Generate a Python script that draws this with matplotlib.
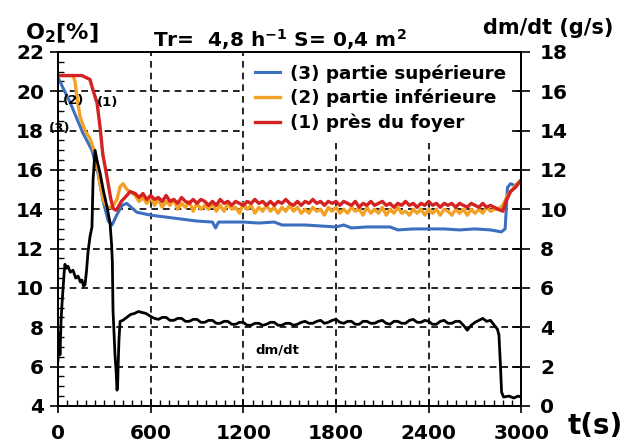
import matplotlib
matplotlib.use('Agg')
import matplotlib.pyplot as plt
from matplotlib.ticker import MultipleLocator

plt.rcParams['font.family'] = ['DejaVu Sans']
plt.rcParams['font.weight'] = 'bold'
plt.rcParams['mathtext.fontset'] = 'dejavusans'

# sample times of the steady phase (every 25 s)
t_steady = list(range(500, 2851, 25))
t_dm_steady = list(range(600, 2826, 25))

# O2 near the fire (1)
t_red_start = [0, 155, 207, 227, 253, 272, 290, 318, 340, 356, 375, 389, 410, 434, 467]
o2_red_start = [20.8, 20.8, 20.6, 20.05, 19.4, 18.2, 16.8, 15.6, 14.6, 14.05, 13.95, 14.1, 14.4, 14.6, 14.9]
o2_red_steady = [
    14.8, 14.6, 14.8, 14.5, 14.7, 14.5, 14.6, 14.4, 14.7, 14.4, 14.5, 14.3, 14.6, 14.4, 14.3, 14.5, 14.3, 14.5, 14.4, 14.2,
    14.4, 14.2, 14.5, 14.3, 14.4, 14.2, 14.4, 14.3, 14.2, 14.4, 14.3, 14.5, 14.3, 14.4, 14.2, 14.4, 14.2, 14.4, 14.3, 14.5,
    14.3, 14.2, 14.4, 14.2, 14.4, 14.3, 14.5, 14.3, 14.4, 14.2, 14.4, 14.3, 14.4, 14.2, 14.4, 14.3, 14.2, 14.4, 14.1, 14.3,
    14.2, 14.4, 14.2, 14.3, 14.4, 14.2, 14.3, 14.1, 14.3, 14.2, 14.4, 14.2, 14.3, 14.1, 14.3, 14.2, 14.4, 14.2, 14.3, 14.1,
    14.3, 14.2, 14.3, 14.1, 14.3, 14.2, 14.1, 14.3, 14.2, 14.1, 14.3, 14.1, 14.2, 14.1, 14.0]
t_red_end = [2880, 2900, 2930, 2960, 3000]
o2_red_end = [13.9, 14.4, 14.9, 15.1, 15.5]

# O2 lower part (2)
t_orange_start = [0, 97, 110, 123, 143, 175, 207, 240, 253, 272, 292, 318, 350, 382, 402, 421, 447, 475]
o2_orange_start = [20.8, 20.8, 20.5, 19.7, 18.7, 18.0, 17.6, 16.85, 16.35, 15.3, 14.5, 14.1, 14.1, 14.5, 15.15, 15.3, 15.0, 14.85]
o2_orange_steady = [
    14.7, 14.4, 14.6, 14.3, 14.6, 14.2, 14.5, 14.1, 14.4, 14.2, 14.5, 14.0, 14.3, 14.1, 14.4, 13.9, 14.3, 14.0, 14.2, 14.0,
    14.3, 13.9, 14.2, 13.9, 14.3, 14.0, 14.1, 13.8, 14.3, 14.0, 14.2, 13.8, 14.1, 13.9, 14.2, 13.9, 14.1, 13.8, 14.1, 13.9,
    14.2, 13.9, 14.1, 13.8, 14.0, 13.8, 14.1, 13.9, 14.0, 13.7, 14.1, 13.9, 14.1, 13.8, 14.0, 13.8, 14.1, 13.9, 14.0, 13.7,
    14.1, 13.8, 14.0, 13.8, 14.1, 13.7, 14.0, 13.8, 14.1, 13.8, 13.9, 13.7, 14.0, 13.8, 14.0, 13.7, 14.0, 13.8, 14.0, 13.7,
    14.0, 13.9, 13.7, 14.0, 13.8, 14.0, 13.7, 14.0, 13.8, 14.0, 13.8, 14.1, 13.9, 14.0, 14.0]
t_orange_end = [2880, 2910, 2950, 3000]
o2_orange_end = [14.2, 14.7, 15.1, 15.5]

# O2 upper part (3)
t_blue = [0, 80, 160, 220, 240, 255, 290, 325, 350, 380, 415, 445, 510, 600, 700, 800, 900,
          1000, 1020, 1040, 1100, 1200, 1300, 1400, 1450, 1500, 1600, 1700, 1800, 1850, 1900,
          2000, 2100, 2150, 2200, 2300, 2400, 2500, 2600, 2700, 2800, 2870, 2895, 2910,
          2930, 2960, 3000]
o2_blue = [20.7, 19.4, 17.9, 17.0, 16.4, 16.0, 14.5, 13.4, 13.2, 13.7, 14.2, 14.3, 13.85, 13.7, 13.6, 13.5, 13.4,
           13.35, 13.05, 13.35, 13.35, 13.35, 13.3, 13.35, 13.2, 13.2, 13.2, 13.15, 13.1, 13.2, 13.05,
           13.1, 13.1, 13.1, 12.95, 13.0, 13.0, 13.0, 12.95, 13.0, 12.95, 12.85, 13.0, 15.1,
           15.3, 15.2, 15.5]

# mass loss rate dm/dt (g/s)
t_dm_start = [0, 6, 13, 20, 26, 32, 40, 45, 55, 65, 80, 97, 115, 130, 145, 155, 165, 175, 185, 194,
              207, 220, 227, 240, 255, 272, 295, 318, 337, 347, 352, 356, 362, 369, 376, 382, 386,
              390, 395, 402, 420, 445, 470, 495, 520, 545, 570]
dmdt_start = [2.3, 3.7, 2.6, 4.4, 5.2, 5.9, 6.8, 7.2, 7.0, 7.1, 6.8, 6.9, 6.5, 6.6, 6.3, 6.4, 6.1, 6.15, 6.9, 7.8,
              8.6, 9.1, 11.5, 13.0, 12.4, 11.85, 10.9, 10.1, 9.3, 8.2, 7.3, 4.9, 3.8, 2.6, 1.8, 0.8, 1.0,
              2.2, 3.4, 4.3, 4.35, 4.5, 4.65, 4.7, 4.8, 4.75, 4.7]
dmdt_steady = [
    4.55, 4.45, 4.4, 4.5, 4.5, 4.35, 4.35, 4.45, 4.45, 4.3, 4.3, 4.4, 4.4, 4.25, 4.25, 4.35, 4.35, 4.2, 4.2, 4.3,
    4.3, 4.15, 4.15, 4.25, 4.25, 4.1, 4.1, 4.2, 4.2, 4.1, 4.15, 4.25, 4.25, 4.1, 4.1, 4.2, 4.2, 4.1, 4.15, 4.25,
    4.3, 4.2, 4.2, 4.3, 4.35, 4.2, 4.25, 4.35, 4.4, 4.25, 4.2, 4.3, 4.3, 4.15, 4.15, 4.3, 4.3, 4.2, 4.2, 4.3,
    4.35, 4.2, 4.15, 4.3, 4.3, 4.2, 4.2, 4.35, 4.4, 4.25, 4.25, 4.35, 4.3, 4.15, 4.15, 4.3, 4.35, 4.2, 4.2, 4.3,
    4.3, 4.1, 3.85, 4.1, 4.25, 4.35, 4.45, 4.3, 4.35, 4.1]
t_dm_end = [2845, 2855, 2865, 2872, 2885, 2920, 2950, 2980, 3000]
dmdt_end = [3.9, 3.6, 2.0, 0.7, 0.45, 0.5, 0.4, 0.5, 0.45]

x_ticks = [0, 600, 1200, 1800, 2400, 3000]
left_ticks = [4, 6, 8, 10, 12, 14, 16, 18, 20, 22]
right_ticks = [0, 2, 4, 6, 8, 10, 12, 14, 16, 18]

t_red = t_red_start + t_steady + t_red_end
o2_red = o2_red_start + o2_red_steady + o2_red_end
t_orange = t_orange_start + t_steady + t_orange_end
o2_orange = o2_orange_start + o2_orange_steady + o2_orange_end
t_dm = t_dm_start + t_dm_steady + t_dm_end
dmdt = dmdt_start + dmdt_steady + dmdt_end

fig = plt.figure(figsize=(6.27, 4.48), dpi=100)
ax1 = fig.add_axes([0.0925, 0.094, 0.739, 0.79])
ax2 = ax1.twinx()

ax1.plot(t_blue, o2_blue, color='#3d6fbf', lw=2.2, label='(3) partie supérieure')
ax1.plot(t_orange, o2_orange, color='#f2a124', lw=2.4, label='(2) partie inférieure')
ax1.plot(t_red, o2_red, color='#d42121', lw=2.4, label='(1) près du foyer')
ax2.plot(t_dm, dmdt, color='black', lw=2.0)

ax1.set_xlim(0, 3000)
ax1.set_ylim(4, 22)
ax2.set_ylim(0, 18)
ax1.set_xticks(x_ticks)
ax1.set_yticks(left_ticks)
ax2.set_yticks(right_ticks)
ax1.xaxis.set_minor_locator(MultipleLocator(60))
ax1.yaxis.set_minor_locator(MultipleLocator(0.5))

ax1.grid(True, which='major', color='black', ls=(0, (4, 3)), lw=1.2)

ax1.tick_params(axis='y', which='major', direction='out', length=6, width=1.2,
                labelsize=14.5, pad=4)
ax1.tick_params(axis='y', which='minor', direction='in', length=4, width=1)
ax1.tick_params(axis='x', which='major', direction='inout', length=10, width=1.2,
                labelsize=14.5, pad=8)
ax1.tick_params(axis='x', which='minor', direction='in', length=4, width=1)
ax2.tick_params(axis='y', direction='inout', length=13, width=1.2, labelsize=14.5, pad=7)

for ax in (ax1, ax2):
    for s in ax.spines.values():
        s.set_linewidth(1.3)

leg = ax1.legend(loc='upper left', bbox_to_anchor=(0.402, 0.997), frameon=True,
                 fontsize=13.2, handlelength=1.35, handletextpad=0.55,
                 labelspacing=0.35, borderpad=0.6, borderaxespad=0, framealpha=1)
leg.get_frame().set_edgecolor('none')

ax1.text(104, 19.55, '(2)', fontsize=9.5, ha='center', va='center')
ax1.text(324, 19.45, '(1)', fontsize=9.5, ha='center', va='center')
ax1.text(13, 18.1, '(3)', fontsize=9.5, ha='center', va='center')
ax2.text(1419, 2.85, 'dm/dt', fontsize=9.5, ha='center', va='center')

fig.text(0.098, 0.925, r'O$_\mathbf{2}$[%]', fontsize=16, ha='center', va='center')
fig.text(0.447, 0.895, r'Tr=  4,8 h$^\mathbf{-1}$ S= 0,4 m$^\mathbf{2}$', fontsize=14.5,
         ha='center', va='baseline')
fig.text(0.875, 0.937, 'dm/dt (g/s)', fontsize=15, ha='center', va='center')
fig.text(0.949, 0.05, 't(s)', fontsize=20, ha='center', va='center')

fig.savefig('out.png', dpi=100)
